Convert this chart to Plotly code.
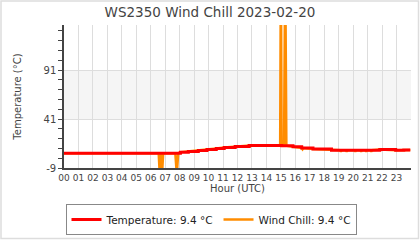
import plotly.graph_objects as go

# Temperature step data (hour, °C)
temp_hours = [0.0, 8.05, 8.6, 9.29, 9.89, 10.53, 11.08, 11.84, 12.8, 15.06, 15.84,
              16.44, 17.22, 18.5, 21.84, 22.94, 23.5, 23.95]
temp_vals = [6.0, 7.2, 7.9, 8.9, 9.9, 10.9, 12.0, 13.0, 14.0, 13.7, 12.7,
             11.3, 10.3, 9.1, 9.9, 9.0, 9.4, 9.4]

# Wind chill (hour, °C)
wc_hours = [0.0, 6.55, 6.62, 6.7, 6.78, 6.86, 6.95, 7.7, 7.8, 7.9, 8.05, 8.6, 9.29,
            9.89, 10.53, 11.08, 11.84, 12.8, 12.84, 12.88, 14.95, 15.0, 15.05,
            15.22, 15.3, 15.38, 15.84, 16.44, 16.5, 16.56, 17.22, 18.5, 19.1,
            19.15, 19.2, 19.5, 19.55, 19.6, 20.1, 20.15, 20.2, 20.5, 20.55, 20.6,
            20.85, 20.9, 20.95, 21.2, 21.25, 21.3, 21.84, 22.94, 23.5, 23.95]
wc_vals = [6.0, 6.0, -15, 6.0, -15, 6.0, 6.0, 6.0, -15, 6.0, 7.2, 7.9, 8.9,
           9.9, 10.9, 12.0, 13.0, 14.0, 12.0, 14.0, 14.0, 200, 14.0,
           14.0, 200, 13.7, 12.7, 11.3, 10.0, 11.3, 10.3, 9.1, 9.1,
           7.8, 9.1, 9.1, 7.8, 9.1, 9.1, 7.8, 9.1, 9.1, 7.8, 9.1,
           9.1, 7.8, 9.1, 9.1, 7.8, 9.1, 9.9, 9.0, 9.4, 9.4]

hour_ticks = list(range(24))
hour_labels = [f"{h:02d}" for h in hour_ticks]
y_ticks = [-9, 41, 91]

FONT = "DejaVu Sans"
fig = go.Figure()
fig.add_trace(go.Scatter(x=wc_hours, y=wc_vals, mode="lines",
                         line=dict(color="#ff8c00", width=2.5),
                         name="Wind Chill: 9.4 °C"))
fig.add_trace(go.Scatter(x=temp_hours, y=temp_vals, mode="lines",
                         line=dict(color="#ff0000", width=3, shape="hv"),
                         name="Temperature: 9.4 °C"))

W, H = 420, 240
l, r, t, b = 64, 9, 25, 72
pw, ph = W - l - r, H - t - b

fig.add_shape(type="rect", xref="paper", yref="y", x0=0, x1=1, y0=41, y1=91,
              fillcolor="#f5f5f5", line_width=0, layer="below")
fig.add_shape(type="rect", xref="paper", yref="paper",
              x0=(1 - l) / pw, x1=(W - 1.5 - l) / pw,
              y0=-(b - 1.5) / ph, y1=1 + (t - 1) / ph,
              line=dict(color="#dddddd", width=1.5), fillcolor="rgba(0,0,0,0)")

fig.update_layout(
    width=W, height=H, margin=dict(l=l, r=r, t=t, b=b, autoexpand=False),
    paper_bgcolor="white", plot_bgcolor="white",
    font=dict(family=FONT, color="#444444", size=10),
    title=dict(text="WS2350 Wind Chill 2023-02-20", x=0.5, xanchor="center",
               y=1 - 12 / H, yanchor="middle",
               font=dict(size=13.5, color="#444444", family=FONT)),
    showlegend=True,
    legend=dict(orientation="h", x=(211 - l) / pw, xanchor="center",
                y=-(204 - (H - b)) / ph, yanchor="top",
                bordercolor="#888888", borderwidth=1, bgcolor="white",
                font=dict(size=10.5, color="#222222"), traceorder="reversed",
                itemwidth=30, tracegroupgap=0),
    xaxis=dict(range=[0, 24], tickvals=hour_ticks, ticktext=hour_labels,
               showgrid=True, gridcolor="#dddddd", gridwidth=1,
               showline=True, linecolor="#444444", linewidth=1.5,
               ticks="", tickfont=dict(size=9), zeroline=False,
               title=dict(text="Hour (UTC)", font=dict(size=10), standoff=1)),
    yaxis=dict(range=[-9, 137], tickvals=y_ticks, ticktext=[str(v) for v in y_ticks],
               showgrid=True, gridcolor="#dddddd", gridwidth=1,
               showline=True, linecolor="#444444", linewidth=1.5,
               ticks="outside", ticklen=4, tickcolor="#444444",
               minor=dict(tickvals=list(range(1, 137, 10)), ticks="outside",
                          ticklen=4, tickcolor="#444444", showgrid=False),
               tickfont=dict(size=10), zeroline=False,
               title=dict(text="Temperature (°C)", font=dict(size=10), standoff=20)),
)

fig.write_html("out.html")
